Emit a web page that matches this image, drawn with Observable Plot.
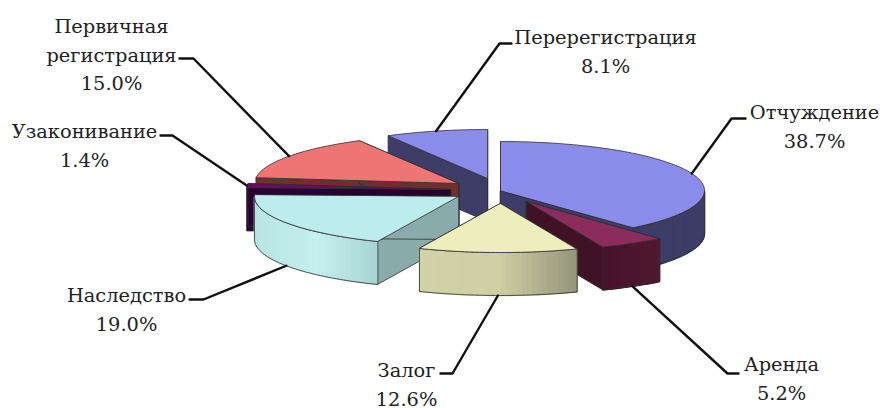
<!DOCTYPE html>
<html>
<head>
<meta charset="utf-8">
<script src="https://cdn.jsdelivr.net/npm/d3@7"></script>
<script src="https://cdn.jsdelivr.net/npm/@observablehq/plot@0.6"></script>
<style>html,body{margin:0;background:#fff}svg{display:block}</style>
</head>
<body>
<div id="chart"></div>
<script>
// Data
const names = ["Отчуждение","Аренда","Залог","Наследство","Узаконивание","Первичная\nрегистрация","Перерегистрация"];
const shares = [38.7,5.2,12.6,19.0,1.4,15.0,8.1];
// Appearance
const topColors  = ["#8b8bec","#8c2c5c","#eeeebd","#bcecec","#660a66","#ef7575","#8b8bec"];
const faceColors = ["#3d3d68","#3f1226","#9a9a78","#8aabab","#2a0030","#6f2f2f","#3d3d68"];
const sideStops  = [["#3d3d68","#3d3d68"],["#45132a","#52182f"],["#d2d2a8","#cfcfa6","#94947a"],["#b8e4e4","#c6efef","#a8d4d4"],["#2a0030","#2a0030"],["#6f2f2f","#6f2f2f"],["#3d3d68","#3d3d68"]];
// Pie geometry (screen units)
const rx = 204, ry = 49, depth = 43;
const centersX = [500,526,500,458,450,458,487];
const centersY = [190,201,203,196,189,183,178];
const drawOrder = [6,0,5,4,3,1,2];
// Label layout
const labelX = [814,781,406,126,84,111,605];
const labelY = [124,376,382,307,143,52,49];
const elbowX = [731,727,452,203,172,193,499];
const elbowY = [118,373,373,299,135,58,43];
const tailX  = [745,738,440,189,160,179,511];

const rad = d => d * Math.PI / 180;
const ends = d3.cumsum(shares).map(v => v * 3.6);
const starts = ends.map((e, i) => e - shares[i] * 3.6);
const pt = (i, a, h = 0) => ({x: centersX[i] + rx * Math.sin(rad(a)), y: centersY[i] - ry * Math.cos(rad(a)) + h});
const edge = "#2e2e2e";

const marks = [];
for (const i of drawOrder) {
  const a0 = starts[i], a1 = ends[i];
  const c = {x: centersX[i], y: centersY[i]};
  const cb = {x: c.x, y: c.y + depth};
  for (const a of [a0, a1]) {
    marks.push(Plot.line([c, pt(i,a), pt(i,a,depth), cb], {x:"x", y:"y", curve:"linear-closed", fill: faceColors[i], stroke: edge, strokeWidth: 0.8}));
  }
  const lo = Math.max(a0, 90), hi = Math.min(a1, 270);
  if (hi > lo) {
    const n = Math.ceil((hi - lo) / 1.5);
    const ramp = d3.piecewise(d3.interpolateRgb, sideStops[i]);
    const angles = d3.range(n + 1).map(k => lo + (hi - lo) * k / n);
    const xs = angles.map(a => pt(i,a).x);
    const [xmin, xmax] = d3.extent(xs);
    const outline = [...angles.map(a => pt(i,a)), ...angles.slice().reverse().map(a => pt(i,a,depth))];
    marks.push(Plot.line(outline, {x:"x", y:"y", curve:"linear-closed", fill: sideStops[i][0]}));
    const segs = [];
    for (let k = 0; k < n; k++) {
      const col = d3.rgb(ramp(((xs[k] + xs[k+1]) / 2 - xmin) / (xmax - xmin))).formatHex();
      for (const p of [pt(i,angles[k]), pt(i,angles[k+1]), pt(i,angles[k+1],depth), pt(i,angles[k],depth)])
        segs.push({...p, id: k, col});
    }
    marks.push(Plot.line(segs, {x:"x", y:"y", z:"id", curve:"linear-closed", fill:{value:"col", scale:null}, stroke:{value:"col", scale:null}, strokeWidth: 1.4, strokeLinejoin:"bevel"}));
    marks.push(Plot.line(outline, {x:"x", y:"y", curve:"linear-closed", stroke: edge, strokeWidth: 0.8}));
  }
  const n = Math.max(4, Math.ceil((a1 - a0) / 1.5));
  const arc = d3.range(n + 1).map(k => pt(i, a0 + (a1 - a0) * k / n));
  marks.push(Plot.line([c, ...arc], {x:"x", y:"y", curve:"linear-closed", fill: topColors[i], stroke: edge, strokeWidth: 0.8}));
}

shares.forEach((_, i) => {
  const m = (starts[i] + ends[i]) / 2;
  const front = m > 90 && m < 270;
  const s = pt(i, m, front ? depth : 0);
  marks.push(Plot.line([s, {x: elbowX[i], y: elbowY[i]}, {x: tailX[i], y: elbowY[i]}], {x:"x", y:"y", stroke:"#111", strokeWidth: 2.4, curve:"linear"}));
});

const labels = names.map((n, i) => ({text: `${n}\n${shares[i].toFixed(1)}%`, x: labelX[i], y: labelY[i]}));
marks.push(Plot.text(labels, {x:"x", y:"y", text:"text", textAnchor:"middle", lineAnchor:"middle", lineHeight: 1.47, fontSize: 19.4, fontFamily:"DejaVu Serif", fill:"#222"}));

const chart = Plot.plot({
  width: 882, height: 408, margin: 0,
  x: {domain:[0,882], axis:null},
  y: {domain:[408,0], axis:null},
  marks
});
document.getElementById("chart").append(chart);
</script>
</body>
</html>
